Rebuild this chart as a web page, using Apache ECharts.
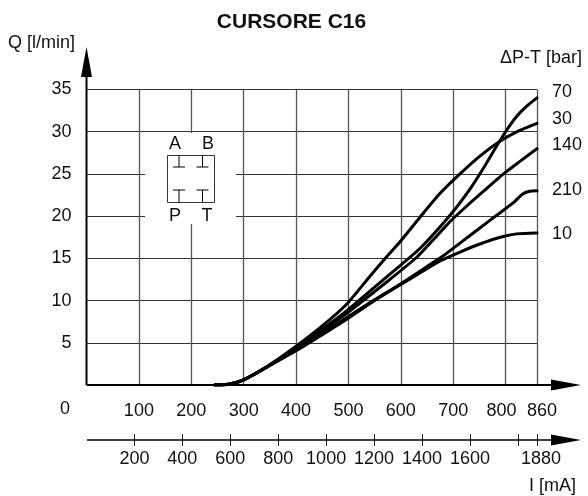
<!DOCTYPE html>
<html><head><meta charset="utf-8">
<style>html,body{margin:0;padding:0;background:#fff}#c{width:588px;height:496px}</style>
<script src="https://cdn.jsdelivr.net/npm/echarts@6/dist/echarts.min.js"></script>
</head><body><div id="c"></div>
<script>
const chartTitle = 'CURSORE C16';
const dutyTicks = [100, 200, 300, 400, 500, 600, 700, 800, 860];
const currentTicks = [200, 400, 600, 800, 1000, 1200, 1400, 1600, 1800, 1880];
const currentLabels = [200, 400, 600, 800, 1000, 1200, 1400, 1600, 1880];
const curve70 = [[245,0],[262,0.02],[280,0.2],[300,0.6],[345,2.2],[400,4.4],[450,6.6],[497,8.8],[573,12.8],[637,16.2],[694,20.1],[732,23.2],[758,25.7],[783,28.3],[800,30],[821,31.8],[840,33],[860,34]];
const curve30 = [[245,0],[262,0.02],[280,0.2],[300,0.6],[345,2.2],[398,4.5],[450,7],[497,9.6],[540,12.8],[573,15.2],[599,17],[637,19.9],[675,22.7],[713,25],[751,27.1],[790,28.9],[825,30.1],[860,31]];
const curve140 = [[245,0],[262,0.02],[280,0.2],[300,0.6],[345,2.15],[400,4.3],[450,6.4],[497,8.5],[573,12.2],[630,15.1],[662,17.2],[694,19.35],[726,21.2],[758,22.95],[796,25],[830,26.6],[860,28]];
const curve210 = [[245,0],[262,0.02],[280,0.2],[300,0.6],[345,2.15],[400,4.15],[450,6.1],[497,8],[550,10.1],[600,12],[637,13.5],[681,15.3],[713,16.8],[751,18.6],[783,20.1],[815,21.6],[832,22.6],[846,22.95],[860,23]];
const curve10 = [[245,0],[262,0.02],[280,0.2],[300,0.6],[345,2.15],[400,4.05],[450,5.95],[497,7.8],[550,10],[600,11.9],[637,13.3],[675,14.7],[713,15.75],[751,16.7],[790,17.5],[821,17.9],[860,18]];
const curves = [['70',curve70],['30',curve30],['140',curve140],['210',curve210],['10',curve10]];
const deltaLabels = [['70',92],['30',119],['140',145],['210',190],['10',234]];

const font = '"Liberation Sans", Arial, sans-serif';
const ink = '#111';
const FS = 18;
const text = (t, x, y, align) => ({type:'text', z:10, style:{text:t, x, y, align:align||'center', verticalAlign:'middle', font:FS+'px '+font, fill:ink}});
const seg = (x1,y1,x2,y2,w) => ({type:'line', z:6, shape:{x1,y1,x2,y2}, style:{stroke:'#000', lineWidth:w||1}});
const tri = (pts) => ({type:'polygon', z:7, shape:{points:pts}, style:{fill:'#000'}});

const chart = echarts.init(document.getElementById('c'), null, {renderer:'canvas'});
chart.setOption({
  animation:false,
  backgroundColor:'#fff',
  title:{text:chartTitle, left:286.5, top:7, textAlign:'center', textStyle:{fontFamily:font, fontWeight:'bold', fontSize:21, color:ink}},
  grid:{left:86.5, right:51, top:89.5, bottom:111},
  xAxis:[
    {type:'value', min:0, max:860, interval:100, position:'bottom',
     axisLine:{show:false}, axisTick:{show:false},
     splitLine:{show:true, showMinLine:false, lineStyle:{color:'#555', width:1.3, type:'solid'}},
     axisLabel:{show:true, margin:17, fontFamily:font, fontSize:FS, color:ink,
       customValues:dutyTicks, hideOverlap:false,
       formatter:v => v===800 ? '{l|800}' : v===860 ? '{r|860}' : String(v),
       rich:{l:{fontFamily:font,fontSize:FS,color:ink,padding:[0,8,0,0]}, r:{fontFamily:font,fontSize:FS,color:ink,padding:[0,0,0,10]}}}},
    {type:'value', min:0, max:1880, position:'bottom', offset:49,
     axisLine:{show:false},
     splitLine:{show:false},
     axisTick:{show:true, length:12, customValues:currentTicks, lineStyle:{color:'#222', width:1}},
     axisLabel:{show:true, margin:16, fontFamily:font, fontSize:FS, color:ink,
       customValues:currentLabels, hideOverlap:false,
       formatter:v => v===1880 ? '{r|1880}' : String(v),
       rich:{r:{fontFamily:font,fontSize:FS,color:ink,padding:[0,0,0,8]}}}}
  ],
  yAxis:{type:'value', min:0, max:35, interval:5,
    axisLine:{show:false}, axisTick:{show:false},
    splitLine:{show:true, showMinLine:false, lineStyle:{color:'#333', width:1}},
    axisLabel:{margin:15, padding:[3,0,0,0], fontFamily:font, fontSize:FS, color:ink, formatter:v => v===0 ? '' : String(v)}},
  series:curves.map(([name,data]) => ({name, type:'line', data, xAxisIndex:0, smooth:0.2, showSymbol:false, z:3,
    lineStyle:{color:'#000', width:3, cap:'round', join:'round'}})),
  graphic:[
    {type:'rect', z:1, shape:{x:145,y:133,width:91,height:91}, style:{fill:'#fff'}},
    seg(86.5,385,86.5,70,2), tri([[86.5,47],[81,77],[92,77]]),
    seg(86.5,385,556,385,2), tri([[581,385],[551,379.5],[551,390.5]]),
    seg(87,440,556,440,1.6), tri([[581,440],[551,434.5],[551,445.5]]),
    {type:'rect', z:6, shape:{x:167.5,y:155.5,width:47,height:47}, style:{fill:'none',stroke:'#333',lineWidth:1}},
    seg(179,155.5,179,167), seg(173,167,185,167), seg(202.5,155.5,202.5,167), seg(196.5,167,208.5,167),
    seg(179,190,179,202), seg(173,190,185,190), seg(202.5,190,202.5,202), seg(196.5,190,208.5,190),
    text('A',175,144), text('B',208,144), text('P',175,216), text('T',207,216),
    text('Q [l/min]',8,43,'left'),
    text('ΔP-T [bar]',582,58,'right'),
    text('I [mA]',576,486,'right'),
    text('0',65,409),
    ...deltaLabels.map(([t,y]) => text(t,552,y,'left'))
  ]
});
</script></body></html>
